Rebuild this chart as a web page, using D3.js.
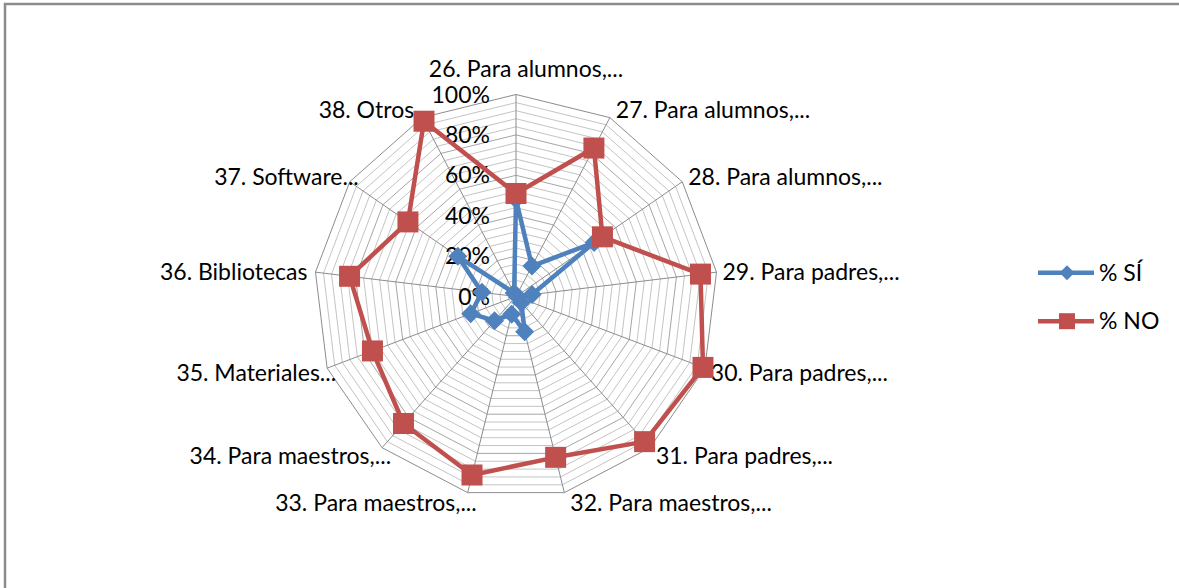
<!DOCTYPE html>
<html>
<head>
<meta charset="utf-8">
<script src="https://cdn.jsdelivr.net/npm/d3@7"></script>
<style>
  body { margin: 0; background: #fff; }
  svg { display: block; font-family: Lato, "Open Sans", sans-serif; }
</style>
</head>
<body>
<script>
// categories around the radar (clockwise from the top)
var categories = [
  "26. Para alumnos,...", "27. Para alumnos,...", "28. Para alumnos,...",
  "29. Para padres,...", "30. Para padres,...", "31. Para padres,...",
  "32. Para maestros,...", "33. Para maestros,...", "34. Para maestros,...",
  "35. Materiales...", "36. Bibliotecas", "37. Software...", "38. Otros"
];

// % SÍ and % NO per category
var valuesSi = [48, 17, 47, 8, 1, 4, 18, 9, 16, 24, 17, 35, 2];
var valuesNo = [51, 83, 52, 92, 99, 96, 82, 91, 84, 76, 83, 65, 98];

var seriesNames = ["% SÍ", "% NO"];
var tickValues = [0, 20, 40, 60, 80, 100];
var tickLabels = ["0%", "20%", "40%", "60%", "80%", "100%"];

var width = 1179, height = 588;
var cx = 516, cy = 296.5, R = 202;
var blue = "#4F81BD", red = "#C0504D";

var svg = d3.select("body").append("svg")
    .attr("width", width)
    .attr("height", height);

// chart area border (runs off the right and bottom edges)
svg.append("rect")
    .attr("x", 5).attr("y", 4)
    .attr("width", width + 10).attr("height", height + 10)
    .attr("fill", "#fff")
    .attr("stroke", "#8c8c8c")
    .attr("stroke-width", 2.5);

var r = d3.scaleLinear().domain([0, 100]).range([0, R]);
var angle = d3.scalePoint().domain(d3.range(categories.length))
    .range([0, 2 * Math.PI * (categories.length - 1) / categories.length]);

var g = svg.append("g").attr("transform", "translate(" + cx + "," + cy + ")");

// rings every 4%
var ringLine = d3.lineRadial()
    .angle(function(d) { return angle(d) })
    .curve(d3.curveLinearClosed);

var rings = d3.range(4, 101, 4);
g.append("g").attr("class", "rings")
  .selectAll("path")
  .data(rings)
  .enter().append("path")
    .attr("d", function(v) { return ringLine.radius(r(v))(d3.range(categories.length)) })
    .attr("fill", "none")
    .attr("stroke", function(v) { return v == 100 ? "#8c8c8c" : (v % 20 == 0 ? "#a6a6a6" : "#c4c4c4") })
    .attr("stroke-width", 1);

// spokes
g.append("g").attr("class", "spokes")
  .selectAll("line")
  .data(d3.range(categories.length))
  .enter().append("line")
    .attr("x1", 0).attr("y1", 0)
    .attr("x2", function(i) { return r(100) * Math.sin(angle(i)) })
    .attr("y2", function(i) { return -r(100) * Math.cos(angle(i)) })
    .attr("stroke", "#8c8c8c")
    .attr("stroke-width", 1);

// value axis labels
g.append("g").attr("class", "ticks")
  .selectAll("text")
  .data(tickValues)
  .enter().append("text")
    .attr("x", -26)
    .attr("y", function(v) { return -r(v) })
    .attr("dy", "0.35em")
    .attr("text-anchor", "end")
    .style("font-size", "23px")
    .style("fill", "#000")
    .text(function(v, i) { return tickLabels[i] });

// category labels
g.append("g").attr("class", "cats")
  .selectAll("text")
  .data(categories)
  .enter().append("text")
    .each(function(d, i) {
      var a = angle(i), s = Math.sin(a), c = Math.cos(a);
      var vx = r(100) * s, vy = -r(100) * c;
      var anchor = Math.abs(s) < 0.1 ? "middle" : (s > 0 ? "start" : "end");
      var px = vx, py = vy - 10 * c + 1;
      if (anchor == "start") px = vx + 6;
      if (anchor == "end") {
        px = vx - 8;
        if (d.slice(-3) == "...") px += 17;  // excel shifts truncated labels
      }
      if (anchor == "middle") { px = vx + 10; py = vy - 26; }
      d3.select(this)
        .attr("x", px).attr("y", py)
        .attr("dy", "0.35em")
        .attr("text-anchor", anchor);
    })
    .style("font-size", "23px")
    .style("fill", "#000")
    .text(function(d) { return d });

// series
var seriesLine = d3.lineRadial()
    .angle(function(d, i) { return angle(i) })
    .radius(function(d) { return r(d) })
    .curve(d3.curveLinearClosed);

function px(d, i) { return r(d) * Math.sin(angle(i)) }
function py(d, i) { return -r(d) * Math.cos(angle(i)) }

function diamondPath(h) {
  return "M0," + (-h) + "L" + h + ",0L0," + h + "L" + (-h) + ",0Z";
}

// % SÍ (drawn first, under % NO)
g.append("path")
    .datum(valuesSi)
    .attr("d", seriesLine)
    .attr("fill", "none")
    .attr("stroke", blue)
    .attr("stroke-width", 4.5)
    .attr("stroke-linejoin", "round");

g.append("g").selectAll("path")
  .data(valuesSi)
  .enter().append("path")
    .attr("transform", function(d, i) { return "translate(" + px(d, i) + "," + py(d, i) + ")" })
    .attr("d", diamondPath(9.5))
    .attr("fill", blue);

// % NO
g.append("path")
    .datum(valuesNo)
    .attr("d", seriesLine)
    .attr("fill", "none")
    .attr("stroke", red)
    .attr("stroke-width", 4.5)
    .attr("stroke-linejoin", "round");

g.append("g").selectAll("rect")
  .data(valuesNo)
  .enter().append("rect")
    .attr("x", function(d, i) { return px(d, i) - 10.5 })
    .attr("y", function(d, i) { return py(d, i) - 10.5 })
    .attr("width", 21).attr("height", 21)
    .attr("fill", red);

// legend
var legend = svg.append("g").attr("class", "legend")
  .selectAll("g")
  .data(seriesNames)
  .enter().append("g")
    .attr("transform", function(d, i) { return "translate(1038," + (272.7 + i * 48.5) + ")" });

legend.append("line")
    .attr("x1", 0).attr("x2", 56)
    .attr("y1", 0).attr("y2", 0)
    .attr("stroke", function(d, i) { return i == 0 ? blue : red })
    .attr("stroke-width", 4.5);

legend.append("path")
    .attr("transform", "translate(29,0)")
    .attr("d", function(d, i) { return i == 0 ? diamondPath(7.5) : "M-8,-8H8V8H-8Z" })
    .attr("fill", function(d, i) { return i == 0 ? blue : red });

legend.append("text")
    .attr("x", 61)
    .attr("y", 0)
    .attr("dy", "0.35em")
    .style("font-size", "23px")
    .style("fill", "#000")
    .text(function(d) { return d });
</script>
</body>
</html>
